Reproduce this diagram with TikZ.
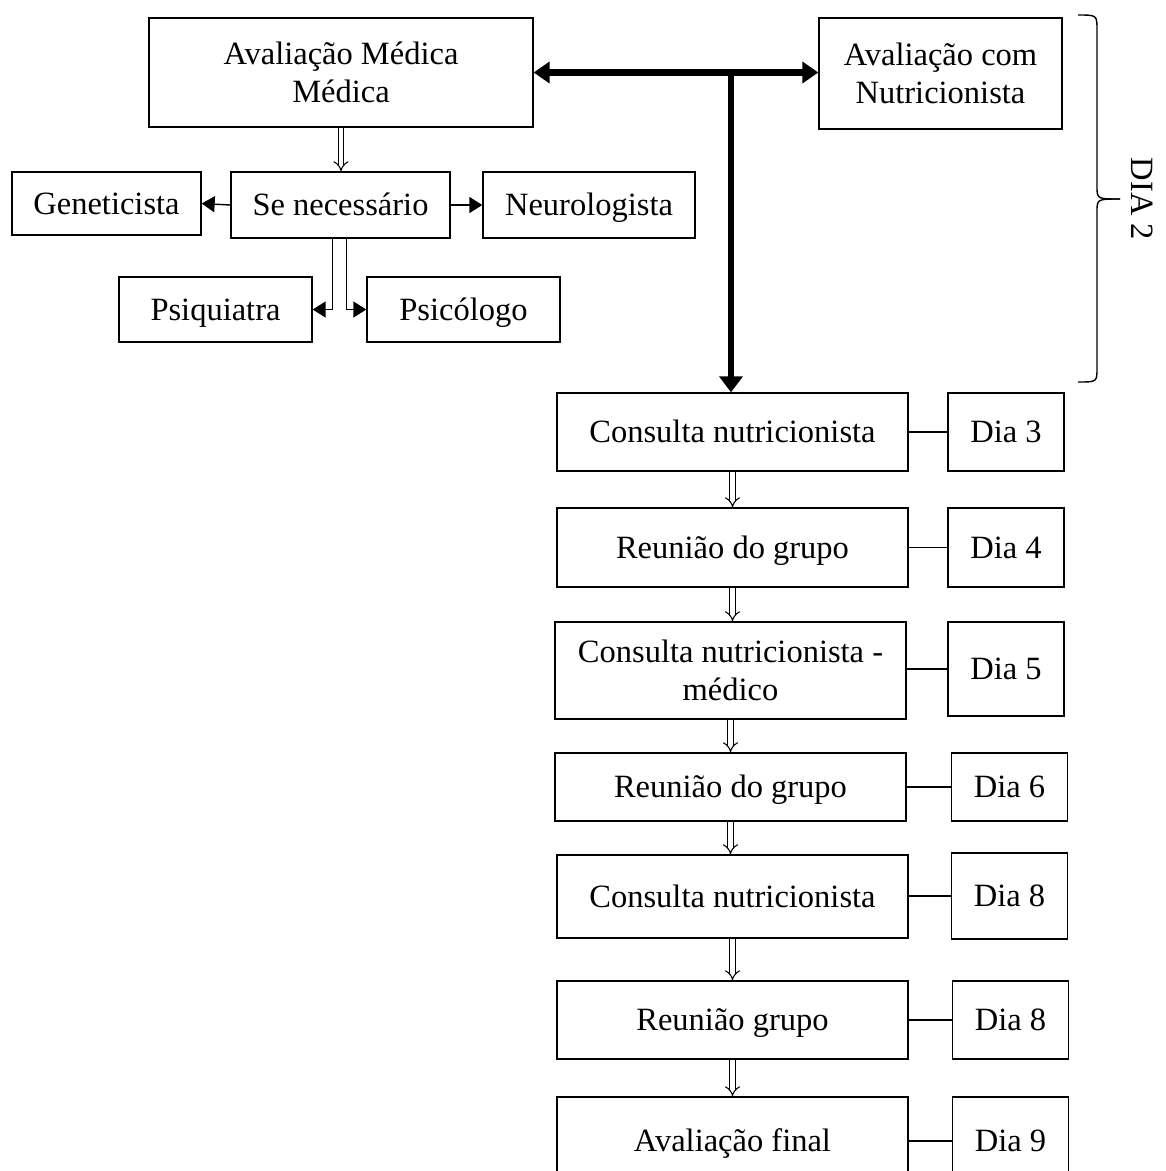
\documentclass[tikz,border=0pt]{standalone}
\usepackage{fontspec}
\setmainfont{Liberation Serif}
\usepackage{tikz}
\usetikzlibrary{positioning,arrows.meta,calc}
\tikzset{
  box/.style={draw, line width=0.8pt, fill=white, align=center, inner sep=2pt},
  oneline/.style={text height=16.6pt, text depth=4.1pt},
  diabox/.style={draw, line width=0.8pt, fill=white, align=center, minimum width=2.32cm, oneline},
  stepbox/.style={draw, line width=0.8pt, fill=white, align=center, minimum width=7.02cm},
  thickarrow/.style={line width=3.6pt, {Triangle[length=3.2mm,width=4.2mm]}-{Triangle[length=3.2mm,width=4.2mm]}},
  downarrow/.style={line width=3.6pt, -{Triangle[length=3.2mm,width=4.6mm]}},
  smallarrow/.style={line width=0.8pt, -{Triangle[length=2.6mm,width=3.2mm]}},
  dblarrow/.style={double, double distance=2.4pt, line width=0.6pt, -{Implies[length=2.2mm]}},
  dayline/.style={line width=0.8pt}
}
\begin{document}
\begin{tikzpicture}[x=0.02cm, y=-0.02cm, every node/.style={font=\fontsize{18.5}{21.5}\selectfont}]
  \useasboundingbox (0,0) rectangle (1166,1171);
  % top part
  \node[box, minimum width=7.68cm, minimum height=2.18cm] (avm) at (341,72.5) {Avaliação Médica\\Médica};
  \node[box, minimum width=4.86cm, minimum height=2.22cm] (nutri) at (940.5,73.5) {Avaliação com\\Nutricionista};
  \node[box, oneline, minimum width=4.38cm, minimum height=1.32cm] (se) at (340.5,205) {Se necessário};
  \node[box, oneline, minimum width=3.78cm, minimum height=1.26cm] (gen) at (106.5,203.5) {Geneticista};
  \node[box, oneline, minimum width=4.24cm, minimum height=1.32cm] (neuro) at (589,205) {Neurologista};
  \node[box, oneline, minimum width=3.86cm, minimum height=1.30cm] (psiq) at (215.5,309.5) {Psiquiatra};
  \node[box, oneline, minimum width=3.86cm, minimum height=1.30cm] (psic) at (463.5,309.5) {Psicólogo};

  % sequence of appointments
  \node[stepbox, oneline, minimum height=1.56cm] (c1) at (732.5,432) {Consulta nutricionista};
  \node[stepbox, oneline, minimum height=1.58cm] (c2) at (732.5,547.5) {Reunião do grupo};
  \node[stepbox, minimum height=1.94cm] (c3) at (730.5,670.5) {Consulta nutricionista -\\médico};
  \node[stepbox, oneline, minimum height=1.36cm] (c4) at (730.5,787) {Reunião do grupo};
  \node[stepbox, oneline, minimum height=1.66cm] (c5) at (732.5,896.5) {Consulta nutricionista};
  \node[stepbox, oneline, minimum height=1.56cm] (c6) at (732.5,1020) {Reunião grupo};
  \node[stepbox, oneline, minimum height=1.76cm] (c7) at (732.5,1141) {Avaliação final};

  \node[diabox, minimum height=1.56cm] (d1) at (1006,432) {Dia 3};
  \node[diabox, minimum height=1.58cm] (d2) at (1006,547.5) {Dia 4};
  \node[diabox, minimum height=1.88cm] (d3) at (1006,669) {Dia 5};
  \node[diabox, minimum height=1.36cm] (d4) at (1009.5,787) {Dia 6};
  \node[diabox, minimum height=1.72cm] (d5) at (1009.5,896) {Dia 8};
  \node[diabox, minimum height=1.56cm] (d6) at (1010.5,1020) {Dia 8};
  \node[diabox, minimum height=1.76cm] (d7) at (1010.5,1141) {Dia 9};

  % connectors
  \draw[dblarrow] (avm.south) -- (avm.south |- se.north);
  \draw[smallarrow] (se.west) -- (gen.east);
  \draw[smallarrow] (se.east) -- (neuro.west);
  \draw[smallarrow] ([xshift=-0.16cm]se.south) |- (psiq.east);
  \draw[smallarrow] ([xshift=0.12cm]se.south) |- (psic.west);

  \coordinate (tj) at (731,72);
  \draw[thickarrow] (avm.east) -- (avm.east -| nutri.west);
  \draw[downarrow] (tj) -- (tj |- c1.north);

  \foreach \i [count=\j from 2] in {1,...,6} {
    \draw[dblarrow] (c\i.south) -- (c\i.south |- c\j.north);
  }
  \foreach \i in {1,...,7} {
    \draw[dayline] (d\i.west -| c\i.east) -- (d\i.west);
  }

  % bracket for day 2
  \draw[line width=0.8pt] (1078,15) .. controls (1097,15) .. (1097,30) -- (1097,186)
    .. controls (1097,199) .. (1120,199);
  \draw[line width=0.8pt] (1120,199) .. controls (1097,199) .. (1097,212) -- (1097,368)
    .. controls (1097,382) .. (1078,382);
  \node[rotate=-90] (dia2) at (1142,199) {DIA 2};
\end{tikzpicture}
\end{document}
